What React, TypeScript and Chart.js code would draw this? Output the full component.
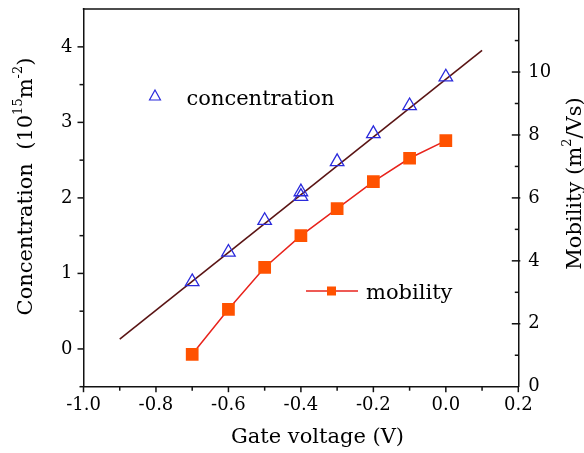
import React, { useEffect, useRef } from 'react';
import { Chart, registerables } from 'chart.js';

Chart.register(...registerables);

// ---- data ----
const concVoltage = [-0.7, -0.6, -0.5, -0.4, -0.4, -0.3, -0.2, -0.1, 0.0];
const concentration = [0.89, 1.28, 1.70, 2.08, 2.02, 2.48, 2.85, 3.22, 3.60];
const mobVoltage = [-0.7, -0.6, -0.5, -0.4, -0.3, -0.2, -0.1, 0.0];
const mobility = [1.03, 2.46, 3.79, 4.80, 5.66, 6.52, 7.26, 7.82];
const fitVoltage = [-0.9, 0.1];
const fitConcentration = [0.13, 3.955];

// ---- ticks ----
const xTicks = [-1.0, -0.8, -0.6, -0.4, -0.2, 0.0, 0.2];
const xMinorTicks = [-0.9, -0.7, -0.5, -0.3, -0.1, 0.1];
const concTicks = [0, 1, 2, 3, 4];
const concMinorTicks = [-0.5, 0.5, 1.5, 2.5, 3.5];
const mobTicks = [0, 2, 4, 6, 8, 10];
const mobMinorTicks = [1, 3, 5, 7, 9, 11];

const FONT = '"DejaVu Serif", serif';
const TEXT = '#000000';
const AXIS = '#111111';
const BLUE = '#2b2bdc';
const FIT = '#5a1414';
const RED = '#e8231c';
const ORANGE = '#ff5200';

type Part = { text: string; sup?: boolean };

function drawRich(ctx: CanvasRenderingContext2D, parts: Part[], cx: number, cy: number, angle: number, size: number) {
  ctx.save();
  ctx.translate(cx, cy);
  ctx.rotate(angle);
  const big = `${size}px ${FONT}`;
  const small = `${Math.round(size * 0.62)}px ${FONT}`;
  let total = 0;
  const widths = parts.map((p) => {
    ctx.font = p.sup ? small : big;
    const w = ctx.measureText(p.text).width;
    total += w;
    return w;
  });
  let xx = -total / 2;
  ctx.textBaseline = 'alphabetic';
  ctx.textAlign = 'left';
  ctx.fillStyle = TEXT;
  const base = size * 0.36;
  parts.forEach((p, i) => {
    ctx.font = p.sup ? small : big;
    ctx.fillText(p.text, xx, base - (p.sup ? size * 0.45 : 0));
    xx += widths[i];
  });
  ctx.restore();
}

const fmt = (v: number) => (Math.abs(v) < 1e-9 ? '0.0' : v.toFixed(1));

const decorPlugin = {
  id: 'decor',
  afterDraw(chart: any) {
    const { ctx, chartArea: ca, scales } = chart;
    const sx = scales.x, sy = scales.y, sy1 = scales.y1;
    ctx.save();
    ctx.strokeStyle = AXIS;
    ctx.lineWidth = 1.5;
    const seg = (a: number, b: number, c: number, d: number) => {
      ctx.beginPath();
      ctx.moveTo(a, b);
      ctx.lineTo(c, d);
      ctx.stroke();
    };
    // top frame
    seg(ca.left - 0.75, ca.top, ca.right + 0.75, ca.top);
    // x ticks (outward)
    xTicks.forEach((v) => { const p = sx.getPixelForValue(v); seg(p, ca.bottom, p, ca.bottom + 5.5); });
    xMinorTicks.forEach((v) => { const p = sx.getPixelForValue(v); seg(p, ca.bottom, p, ca.bottom + 4); });
    // left ticks (outward)
    concTicks.forEach((v) => { const p = sy.getPixelForValue(v); seg(ca.left, p, ca.left - 6, p); });
    concMinorTicks.forEach((v) => { const p = sy.getPixelForValue(v); seg(ca.left, p, ca.left - 4, p); });
    // right ticks (crossing / inward)
    mobTicks.forEach((v) => { if (v === 0) return; const p = sy1.getPixelForValue(v); seg(ca.right - 6.5, p, ca.right + 2, p); });
    mobMinorTicks.forEach((v) => { const p = sy1.getPixelForValue(v); seg(ca.right - 3.5, p, ca.right, p); });

    // legend: concentration
    ctx.strokeStyle = BLUE;
    ctx.lineWidth = 1.2;
    ctx.beginPath();
    ctx.moveTo(155, 90);
    ctx.lineTo(160.5, 100);
    ctx.lineTo(149.5, 100);
    ctx.closePath();
    ctx.stroke();
    ctx.fillStyle = TEXT;
    ctx.font = `21px ${FONT}`;
    ctx.textAlign = 'left';
    ctx.textBaseline = 'alphabetic';
    ctx.fillText('concentration', 186.5, 105);

    // legend: mobility
    ctx.strokeStyle = RED;
    ctx.lineWidth = 1.5;
    seg(306, 291, 358, 291);
    ctx.fillStyle = ORANGE;
    ctx.fillRect(327, 286.5, 9, 9);
    ctx.fillStyle = TEXT;
    ctx.fillText('mobility', 366, 298.5);

    // axis titles
    drawRich(ctx, [
      { text: 'Concentration  (10' }, { text: '15', sup: true }, { text: 'm' }, { text: '-2', sup: true }, { text: ')' },
    ], 24, 186.5, -Math.PI / 2, 21);
    drawRich(ctx, [
      { text: 'Mobility (m' }, { text: '2', sup: true }, { text: '/Vs)' },
    ], 573, 183.5, -Math.PI / 2, 21);
    drawRich(ctx, [{ text: 'Gate voltage (V)' }], 317.5, 435.5, 0, 21);
    ctx.restore();
  },
};

export default function App() {
  const ref = useRef<HTMLCanvasElement | null>(null);
  useEffect(() => {
    if (!ref.current) return;
    const tickFont = { family: FONT, size: 18 };
    const noPad = (s: any) => { s.paddingTop = 0; s.paddingBottom = 0; s.paddingLeft = 0; s.paddingRight = 0; };
    const chart = new Chart(ref.current, {
      type: 'scatter',
      data: {
        datasets: [
          {
            label: 'concentration',
            data: concVoltage.map((x, i) => ({ x, y: concentration[i] })),
            yAxisID: 'y',
            showLine: false,
            pointStyle: 'triangle',
            pointRadius: 7.8,
            pointBackgroundColor: 'rgba(0,0,0,0)',
            pointBorderColor: BLUE,
            pointBorderWidth: 1.3,
          },
          {
            label: 'fit',
            data: fitVoltage.map((x, i) => ({ x, y: fitConcentration[i] })),
            yAxisID: 'y',
            showLine: true,
            borderColor: FIT,
            borderWidth: 1.6,
            pointRadius: 0,
          },
          {
            label: 'mobility',
            data: mobVoltage.map((x, i) => ({ x, y: mobility[i] })),
            yAxisID: 'y1',
            showLine: true,
            borderColor: RED,
            borderWidth: 1.5,
            pointStyle: 'rect',
            pointRadius: 9,
            pointBackgroundColor: ORANGE,
            pointBorderColor: ORANGE,
            pointBorderWidth: 0,
          },
        ],
      } as any,
      options: {
        animation: false,
        responsive: false,
        devicePixelRatio: 1,
        layout: { padding: { top: 5, left: 0, right: 0, bottom: 0 } },
        plugins: { legend: { display: false }, tooltip: { enabled: false } },
        scales: {
          x: {
            type: 'linear',
            position: 'bottom',
            min: -1,
            max: 0.2,
            afterBuildTicks: (s: any) => { s.ticks = xTicks.map((v) => ({ value: v })); },
            afterFit: (s: any) => { s.height = 66.3; noPad(s); },
            ticks: { callback: (v: any) => fmt(Number(v)), font: tickFont, color: TEXT, padding: 7.5, maxRotation: 0, autoSkip: false },
            grid: { display: false, drawTicks: false },
            border: { display: true, color: AXIS, width: 1.5 },
          },
          y: {
            type: 'linear',
            position: 'left',
            min: -0.5,
            max: 4.5,
            afterBuildTicks: (s: any) => { s.ticks = concTicks.map((v) => ({ value: v })); },
            afterFit: (s: any) => { s.width = 83.5; noPad(s); },
            ticks: { callback: (v: any) => String(v), font: tickFont, color: TEXT, padding: 11 },
            grid: { display: false, drawTicks: false },
            border: { display: true, color: AXIS, width: 1.5 },
          },
          y1: {
            type: 'linear',
            position: 'right',
            min: 0,
            max: 12,
            afterBuildTicks: (s: any) => { s.ticks = mobTicks.map((v) => ({ value: v })); },
            afterFit: (s: any) => { s.width = 65.7; noPad(s); },
            ticks: { callback: (v: any) => String(v), font: tickFont, color: TEXT, padding: 10 },
            grid: { display: false, drawTicks: false },
            border: { display: true, color: AXIS, width: 1.5 },
          },
        },
      } as any,
      plugins: [decorPlugin],
    });
    return () => chart.destroy();
  }, []);
  return (
    <div style={{ position: 'fixed', left: 0, top: 0, width: 584, height: 453, background: '#fff' }}>
      <canvas ref={ref} width={584} height={453} style={{ display: 'block' }} />
    </div>
  );
}
